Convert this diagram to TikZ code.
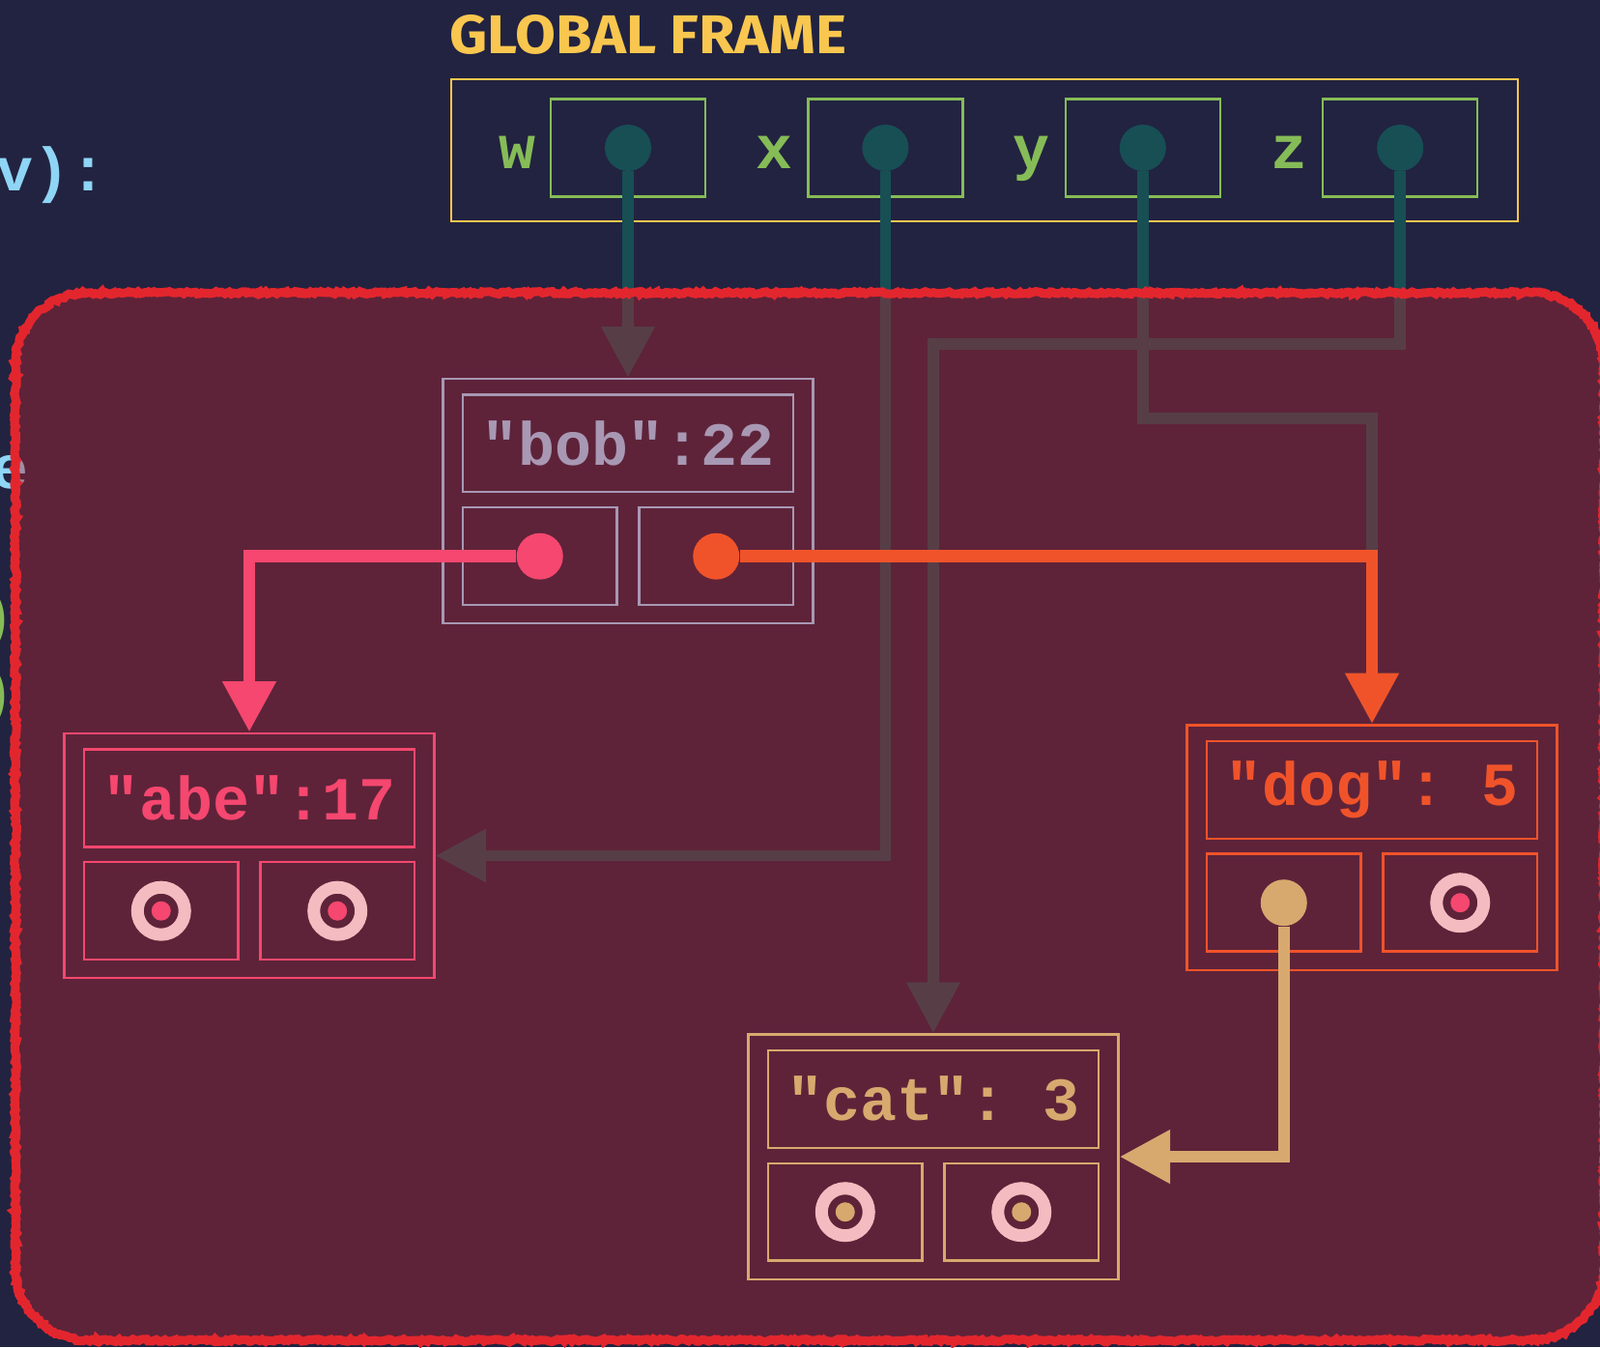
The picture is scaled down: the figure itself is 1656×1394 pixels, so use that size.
\documentclass[tikz,border=0pt]{standalone}
\usepackage{fontspec}
\usepackage{graphicx}
\setmonofont{Liberation Mono}
\newfontfamily\framefont{Fira Sans}
\usetikzlibrary{arrows.meta, positioning, decorations.pathmorphing}

\definecolor{navy}{HTML}{222340}
\definecolor{framedot}{HTML}{174F55}
\definecolor{goldc}{HTML}{F9C74F}
\definecolor{greenc}{HTML}{86BC57}
\definecolor{bobc}{HTML}{A898B4}
\definecolor{abec}{HTML}{F5476F}
\definecolor{dogc}{HTML}{F0532A}
\definecolor{catc}{HTML}{D8A96E}
\definecolor{ringc}{HTML}{F4BBC0}
\definecolor{codeblue}{HTML}{8FD5F5}
\definecolor{heapred}{HTML}{B82530}
\definecolor{heapedge}{HTML}{E3262E}

\pgfdeclarelayer{bg}
\pgfdeclarelayer{ptrs}
\pgfdeclarelayer{region}
\pgfsetlayers{bg,ptrs,region,main}

\newcommand{\codefont}{\fontsize{36}{36}\selectfont\ttfamily\bfseries}

\begin{document}
\begin{tikzpicture}[x=0.02cm, y=-0.02cm,
  varbox/.style={draw=greenc, line width=1.4pt, minimum width=3.2cm, minimum height=2.02cm, inner sep=0pt},
  varlabel/.style={text=greenc, font=\codefont, inner sep=0pt, anchor=base},
  codetext/.style={text=#1, font=\codefont, inner sep=0pt},
  ptrdot/.style={circle, fill=#1, minimum size=0.96cm, inner sep=0pt},
  dictbox/.style={draw=#1, line width=1.4pt, minimum width=7.66cm, minimum height=5.07cm, inner sep=0pt},
  keybox/.style={draw=#1, text=#1, font=\codefont, line width=1.4pt, minimum width=6.84cm, minimum height=2.02cm, inner sep=0pt},
  valbox/.style={draw=#1, line width=1.4pt, minimum width=3.19cm, minimum height=2.02cm, inner sep=0pt},
  sentinel/.style={circle, draw=ringc, line width=0.26cm, minimum size=0.98cm, inner sep=0pt,
    path picture={\fill[#1] (path picture bounding box.center) circle (0.2cm);}},
  frameptr/.style={draw=framedot, line width=0.23cm, -{Triangle[length=1.05cm, width=1.05cm]}},
  heapptr/.style={draw=#1, line width=0.25cm, -{Triangle[length=1.05cm, width=1.05cm]}}]

  \useasboundingbox (0,0) rectangle (1656,1394);

  % global frame and the code behind it
  \begin{pgfonlayer}{bg}
    \fill[navy] (0,0) rectangle (1656,1394);
    \node[codetext=codeblue, anchor=base west] (code-head) at (-4,197) {v):};
    \node[codetext=codeblue, anchor=base west] (code-e) at (-9,505) {e};
    \node[codetext=greenc] (code-p1) at (-4,642) {)};
    \node[codetext=greenc] (code-p2) at (-4,721) {)};
    \node[anchor=base west, inner sep=0pt, text=goldc] (title) at (465,55)
      {\resizebox{234pt}{22.8pt}{\framefont\bfseries GLOBAL FRAME}};
    \node[draw=goldc, line width=1.5pt, minimum width=22.09cm, minimum height=2.94cm, inner sep=0pt] (frame) at (1019,155.5) {};
    \foreach \var [count=\i from 0] in {w,x,y,z} {
      \node[varbox] (\var-box) at (650+266.4*\i,153) {};
      \node[varlabel] (\var-lbl) at (535+266.4*\i,174) {\var};
    }
  \end{pgfonlayer}

  \foreach \var in {w,x,y,z}
    \node[ptrdot=framedot] (\var-dot) at (\var-box) {};

  % heap entries
  \foreach \n/\cx/\cy/\c/\t in {bob/650/518.5/bobc/{"bob":22}, abe/258/885.5/abec/{"abe":17},
                                dog/1420/877/dogc/{"dog": 5}, cat/966/1197/catc/{"cat": 3}} {
    \node[dictbox=\c] (\n) at (\cx,\cy) {};
    \node[keybox=\c, below=0.33cm of \n.north] (\n-k) {\t};
    \node[valbox=\c, below right=0.27cm and 0cm of \n-k.south west] (\n-l) {};
    \node[valbox=\c, below left=0.27cm and 0cm of \n-k.south east] (\n-r) {};
  }

  \node[ptrdot=abec] (bob-l-dot) at (bob-l) {};
  \node[ptrdot=dogc] (bob-r-dot) at (bob-r) {};
  \node[ptrdot=catc] (dog-l-dot) at (dog-l) {};
  \foreach \s/\c in {abe-l/abec, abe-r/abec, dog-r/abec, cat-l/catc, cat-r/catc}
    \node[sentinel=\c] (\s-ring) at (\s) {};

  % frame pointers, seen through the heap
  \begin{pgfonlayer}{ptrs}
    \draw[frameptr] (w-dot) -- (bob.north);
    \draw[frameptr] (x-dot) |- (abe.east);
    \draw[frameptr] (y-dot) -- ++(0,280) -| (dog.north);
    \draw[frameptr] (z-dot) -- ++(0,203) -| (cat.north);
  \end{pgfonlayer}

  \begin{pgfonlayer}{region}
    \fill[heapred, fill opacity=0.4, rounded corners=1.5cm] (16,303) rectangle (1660,1387);
    \draw[heapedge, line width=0.18cm, decorate, decoration={random steps, segment length=1.5pt, amplitude=0.8pt}]
      (16,378) arc[start angle=180, end angle=90, radius=1.5cm] -- (1585,303)
      arc[start angle=90, end angle=0, radius=1.5cm] -- (1660,1312)
      arc[start angle=0, end angle=-90, radius=1.5cm] -- (91,1387)
      arc[start angle=-90, end angle=-180, radius=1.5cm] -- cycle;
  \end{pgfonlayer}

  \draw[heapptr=abec] (bob-l-dot) -| (abe.north);
  \draw[heapptr=dogc] (bob-r-dot) -| (dog.north);
  \draw[heapptr=catc] (dog-l-dot) |- (cat.east);
\end{tikzpicture}
\end{document}
